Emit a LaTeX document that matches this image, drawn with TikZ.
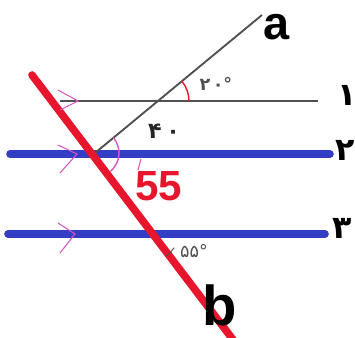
\documentclass[tikz,border=0pt]{standalone}
\usepackage{fontspec}
\setmainfont{Liberation Sans}
\newfontfamily\fafont[Script=Arabic]{DejaVu Sans}
\usepackage{tikz}
\usetikzlibrary{calc}
\definecolor{lineblue}{RGB}{52,62,196}
\definecolor{linered}{RGB}{232,22,44}
\definecolor{markpink}{RGB}{214,86,196}
\definecolor{linegray}{RGB}{80,80,80}

\begin{document}
\begin{tikzpicture}[x=0.03cm, y=0.03cm,
    thinline/.style={draw=linegray, line width=1.6pt},
    blueline/.style={draw=lineblue, line width=6.5pt, line cap=round},
    chev/.style={draw=markpink, line width=0.9pt},
    faLabel/.style={font=\fafont\bfseries\fontsize{27}{27}\selectfont, inner sep=0pt}]
    \useasboundingbox (0,0) rectangle (355,338);

    % Points
    \coordinate (l1w) at (60,237);
    \coordinate (l1e) at (318,237);
    \coordinate (l2w) at (10,184);
    \coordinate (l2e) at (330,184);
    \coordinate (l3w) at (8,104);
    \coordinate (l3e) at (325,104);
    \coordinate (aS) at (95,185);
    \coordinate (aN) at (262,323);
    \coordinate (bN) at (32,263);
    \coordinate (bS) at (234,-3);
    \coordinate (m1) at (78,237);
    \coordinate (m2) at (77,184);
    \coordinate (m3) at (75,104);
    \coordinate (pa1) at (158,237);
    \coordinate (pa2) at (95,185);
    \coordinate (pb3) at (152,104);

    % Lines
    \draw[thinline] (l1w) -- (l1e);
    \draw[blueline] (l2w) -- (l2e);
    \draw[blueline] (l3w) -- (l3e);
    \draw[thinline] (aS) -- (aN);
    \draw[draw=linered, line width=6.5pt, line cap=round] (bN) -- (bS);

    % Parallel marks
    \draw[chev] (m1) ++(-20,11) -- (m1) -- ++(-18,-9);
    \draw[chev] (m2) ++(-19,9) -- (m2) -- ++(-17,-19);
    \draw[chev] (m3) ++(-17,11) -- (m3) -- ++(-15,-19);

    % Angles
    \draw[draw=linered, line width=1.2pt] (pa1) ++(31,0) arc (0:40:31);
    \draw[draw=markpink, line width=1.2pt] (pa2) ++(-50:24) arc (-50:40:24);
    \draw[draw=markpink, line width=0.9pt] (141,179) -- (138,168);
    \draw[draw=linegray, line width=0.8pt] (pb3) ++(-57:26) arc (-57:-32:26);

    % Labels
    \node (n1) at (347,243) [faLabel] {۱};
    \node (n2) at (345,188) [faLabel] {۲};
    \node (n3) at (342,110) [faLabel] {۳};
    \node (na) at (277,311) [font=\bfseries\fontsize{40}{40}\selectfont, inner sep=0pt] {a};
    \node (nb) at (220,33) [font=\bfseries\fontsize{48}{48}\selectfont, inner sep=0pt] {b};
    \node (a20) at (216,254) [font=\fafont\bfseries\fontsize{15}{15}\selectfont, text=linegray, inner sep=0pt] {۲\kern2pt۰°};
    \node (a40) at (164,207) [font=\fafont\bfseries\fontsize{19}{19}\selectfont, text=black!85, inner sep=0pt] {۴\kern4pt۰};
    \node (a55) at (159,152) [font=\bfseries\fontsize{36}{36}\selectfont, text=linered, inner sep=0pt] {55};
    \node (b55) at (194,87) [font=\fafont\fontsize{15}{15}\selectfont, text=linegray, inner sep=0pt] {۵۵°};
\end{tikzpicture}
\end{document}
